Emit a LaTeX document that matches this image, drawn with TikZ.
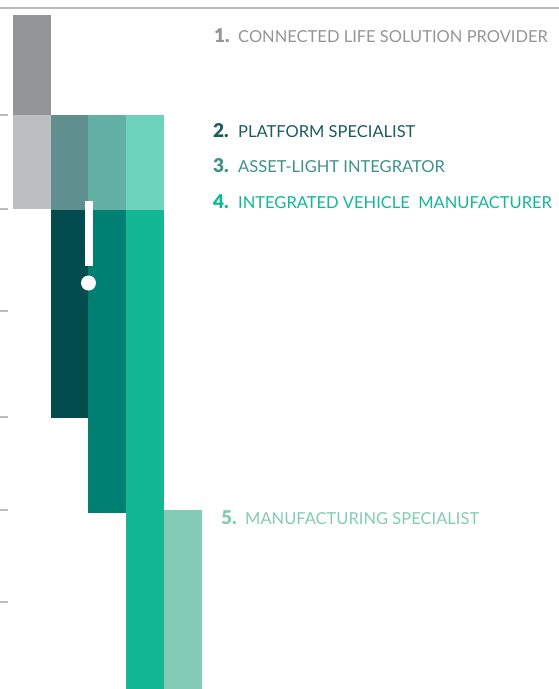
\documentclass[tikz,border=0pt]{standalone}
\usepackage{fontspec}
\setmainfont{Lato}
\newfontfamily\numfont{Lato Black}
\definecolor{greyA}{HTML}{939598}
\definecolor{greyB}{HTML}{BCBEC0}
\definecolor{tealA}{HTML}{5F8F8E}
\definecolor{tealAd}{HTML}{024B4F}
\definecolor{tealB}{HTML}{61AFA5}
\definecolor{tealBd}{HTML}{008073}
\definecolor{tealC}{HTML}{6DD3BD}
\definecolor{tealCd}{HTML}{13B794}
\definecolor{tealE}{HTML}{82CBB4}
\definecolor{txtTwo}{HTML}{1B5C5C}
\definecolor{txtThree}{HTML}{3F9289}
\definecolor{rule}{HTML}{BBBBBB}
\begin{document}
\begin{tikzpicture}[x=1pt,y=-1pt,
  tick/.style={draw=rule,line width=1.3pt},
  num/.style={anchor=base west,inner sep=0pt,font=\fontsize{19}{19}\selectfont\numfont},
  lbl/.style={anchor=base west,inner sep=0pt,font=\fontsize{16.5}{16.5}\selectfont}]
\useasboundingbox (0,0) rectangle (559,689);
% top rule and axis ticks
\draw[draw=rule,line width=1.6pt] (0,8) -- (559,8);
\foreach \yy in {115,209,311,417,510,602}
  \draw[tick] (0,\yy) -- (8,\yy);
% column 1
\fill[greyA] (13,15) rectangle (51,115);
\fill[greyB] (13,115) rectangle (51,209);
% column 2
\fill[tealA] (51,115) rectangle (88,210);
\fill[tealAd] (51,210) rectangle (88,418);
% column 3
\fill[tealB] (88,115) rectangle (126,210);
\fill[tealBd] (88,210) rectangle (126,513);
% column 4
\fill[tealC] (126,115) rectangle (164,210);
\fill[tealCd] (126,210) rectangle (164,689);
% column 5
\fill[tealE] (164,510) rectangle (202,689);
% marker
\fill[white] (85,201) rectangle (93,266);
\fill[white] (88.5,283) circle[radius=7.5];
% labels
\node[num,text=greyA] (n1) at (214,42) {1.};
\node[lbl,text=greyA] (l1) at (238,42) {CONNECTED LIFE SOLUTION PROVIDER};
\node[num,text=txtTwo] (n2) at (213,137) {2.};
\node[lbl,text=txtTwo] (l2) at (238,137) {PLATFORM SPECIALIST};
\node[num,text=txtThree] (n3) at (213,172) {3.};
\node[lbl,text=txtThree] (l3) at (238,172) {ASSET-LIGHT INTEGRATOR};
\node[num,text=tealCd] (n4) at (213,208) {4.};
\node[lbl,text=tealCd] (l4) at (238,208) {INTEGRATED VEHICLE\ \ MANUFACTURER};
\node[num,text=tealE] (n5) at (221,524) {5.};
\node[lbl,text=tealE] (l5) at (245,524) {MANUFACTURING SPECIALIST};
\end{tikzpicture}
\end{document}
